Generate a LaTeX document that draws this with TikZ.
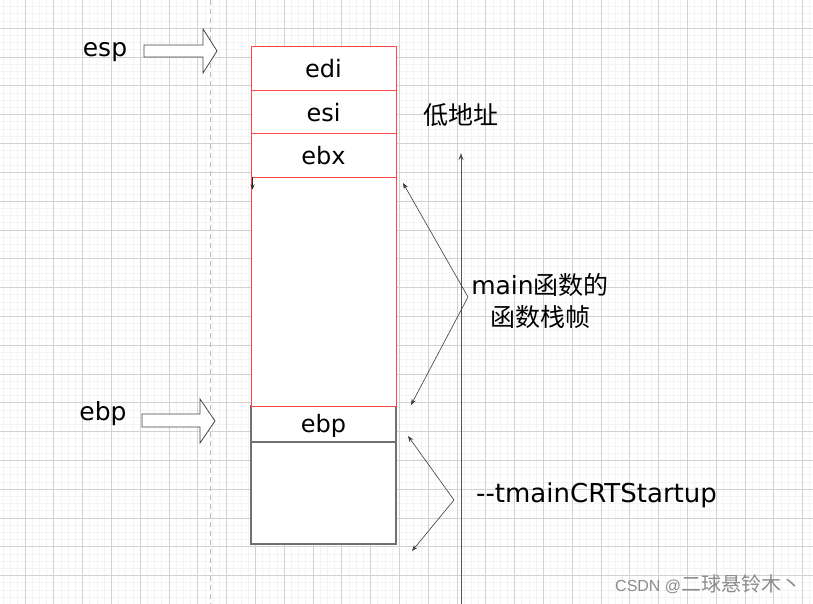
\documentclass[tikz,border=0pt]{standalone}
\usepackage{fontspec}
\setmainfont{DejaVu Sans}
\setsansfont{Liberation Sans}
\newfontfamily\cjk{Noto Sans CJK SC}
\usetikzlibrary{arrows.meta}

\begin{document}
\begin{tikzpicture}[x=1pt,y=1pt,yscale=-1,xscale=1,
    minorgrid/.style={draw={rgb,255:red,243;green,243;blue,243},line width=0.8pt},
    majorgrid/.style={draw={rgb,255:red,210;green,210;blue,210},line width=0.8pt},
    cell/.style={fill=white,minimum width=145pt,inner sep=0pt,font=\fontsize{24}{28}\selectfont},
    redcell/.style={cell,draw={rgb,255:red,255;green,70;blue,70},line width=1pt},
    graycell/.style={cell,draw={rgb,255:red,112;green,112;blue,112},line width=1.6pt},
    label/.style={inner sep=0pt,font=\fontsize{25}{32}\selectfont},
    ptr/.style={draw={rgb,255:red,70;green,70;blue,70},fill=white,line width=0.8pt},
    brace/.style={draw={rgb,255:red,60;green,60;blue,60},line width=0.6pt,
      {Stealth[length=6pt,width=4.5pt]}-{Stealth[length=6pt,width=4.5pt]}},
    axis/.style={draw={rgb,255:red,85;green,85;blue,85},line width=0.9pt,-{Stealth[length=7pt,width=5pt]}}
  ]

  \useasboundingbox (0,0) rectangle (813,604);
  \fill[white] (0,0) rectangle (813,604);

  % Grid
  \foreach \k in {0,...,112} \draw[minorgrid] (3.4+7.2*\k,0) -- (3.4+7.2*\k,604);
  \foreach \k in {0,...,84} \draw[minorgrid] (0,-0.5+7.2*\k) -- (813,-0.5+7.2*\k);
  \foreach \k in {0,...,27} \draw[majorgrid] (25+28.8*\k,0) -- (25+28.8*\k,604);
  \foreach \k in {0,...,20} \draw[majorgrid] (0,-0.5+28.8*\k) -- (813,-0.5+28.8*\k);

  % Dashed guide
  \draw[draw={rgb,255:red,185;green,185;blue,185},line width=1pt,dash pattern=on 5pt off 4pt] (210,0) -- (210,604);

  % Stack
  \node[graycell,minimum height=102pt] (base) at (323.5,493) {};
  \node[graycell,minimum height=36pt,text depth=1pt] (ebpcell) at (323.5,424) {ebp};
  \node[redcell,minimum height=228pt] (frame) at (323.5,292) {};
  \node[redcell,minimum height=44pt] (edi) at (323.5,69) {edi};
  \node[redcell,minimum height=43pt] (esi) at (323.5,112.5) {esi};
  \node[redcell,minimum height=44pt] (ebx) at (323.5,156) {ebx};
  \draw[draw={rgb,255:red,40;green,40;blue,40},line width=0.8pt,-{Stealth[length=5pt,width=4pt]}]
    ([xshift=2pt]frame.north west) -- ++(0,12);

  % Pointers
  \draw[ptr] (144,45) -- (203,45) -- (203,29) -- (217,51) -- (203,73) -- (203,57) -- (144,57) -- cycle;
  \draw[ptr] (142,414) -- (200,414) -- (200,399) -- (215,421) -- (200,443) -- (200,427) -- (142,427) -- cycle;
  \node[label] (esp) at (105,52) {esp};
  \node[label] (ebp) at (103,414) {ebp};

  % Address axis
  \coordinate (axbot) at (461,604);
  \coordinate (axtop) at (461,153);
  \draw[axis] (axbot) -- (axtop);
  \node[label] (low) at (461,115) {\cjk\fontsize{25}{32}\selectfont 低地址};

  % Braces
  \coordinate (mtop) at (403,183);
  \coordinate (mtip) at (468,297);
  \coordinate (mbot) at (411,405);
  \draw[brace] (mtop) -- (mtip) -- (mbot);
  \coordinate (ctop) at (408,436);
  \coordinate (ctip) at (454,500);
  \coordinate (cbot) at (412,551);
  \draw[brace] (ctop) -- (ctip) -- (cbot);

  % Labels
  \node[label,align=center] (mainlbl) at (540,301)
    {main{\cjk\fontsize{25}{32}\selectfont 函数的}\\{\cjk\fontsize{25}{32}\selectfont 函数栈帧}};
  \node[label,anchor=west,font=\fontsize{26}{32}\selectfont] (crt) at (476,495) {-{}-tmainCRTStartup};
  \node[anchor=west,inner sep=0pt,text={rgb,255:red,140;green,140;blue,140}] (mark) at (615,584)
    {\sffamily\fontsize{16}{18}\selectfont CSDN @{\cjk\fontsize{20}{22}\selectfont 二球悬铃木丶}};

\end{tikzpicture}
\end{document}
